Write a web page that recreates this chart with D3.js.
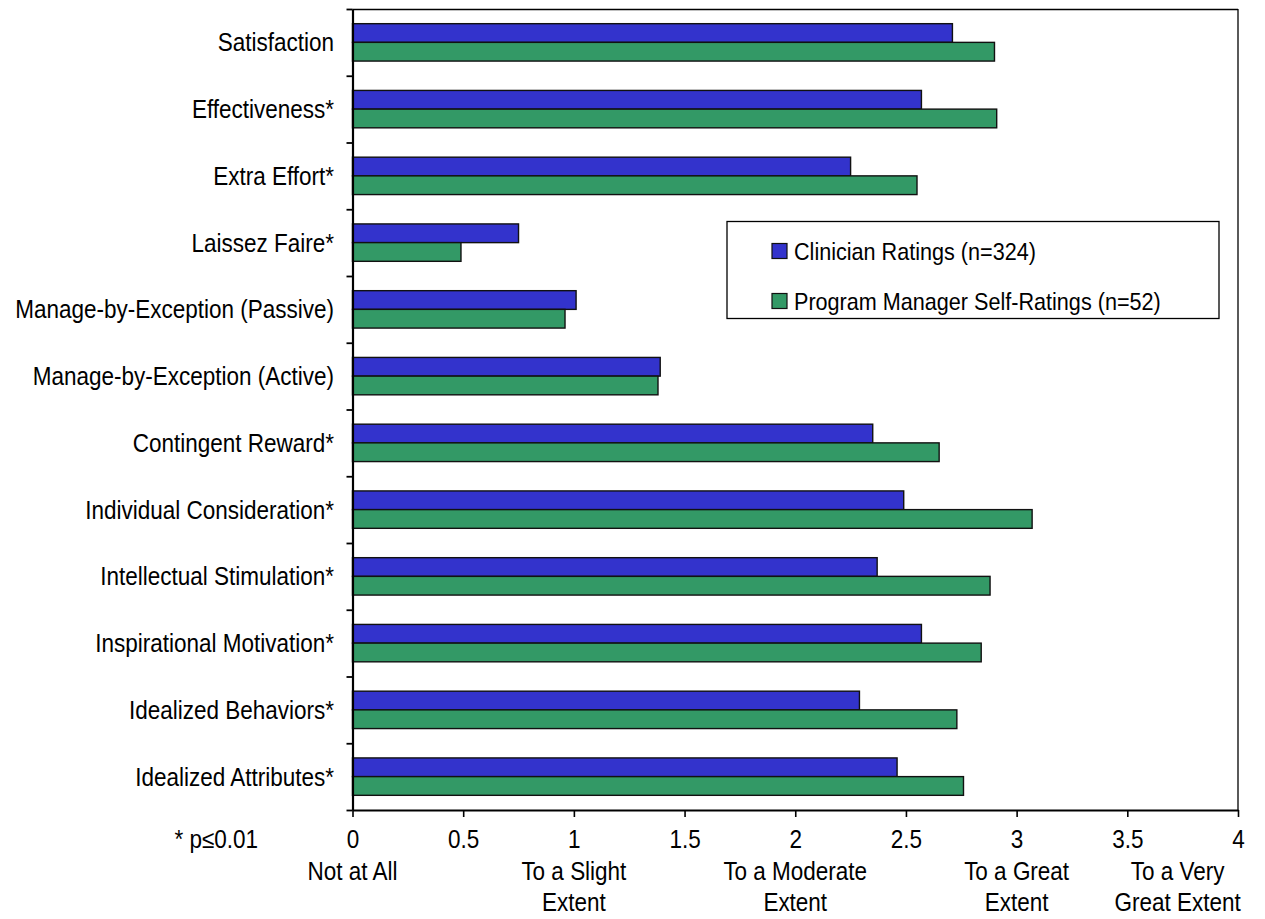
<!DOCTYPE html>
<html>
<head>
<meta charset="utf-8">
<script src="https://cdn.jsdelivr.net/npm/d3@7"></script>
<style>
  html, body { margin: 0; padding: 0; background: #fff; }
  svg { display: block; font-family: "Liberation Sans", Arial, sans-serif; }
</style>
</head>
<body>
<svg id="chart" width="1265" height="919"></svg>
<script>
// Leadership scale means, listed top to bottom
const categories = [
  "Satisfaction",
  "Effectiveness*",
  "Extra Effort*",
  "Laissez Faire*",
  "Manage-by-Exception (Passive)",
  "Manage-by-Exception (Active)",
  "Contingent Reward*",
  "Individual Consideration*",
  "Intellectual Stimulation*",
  "Inspirational Motivation*",
  "Idealized Behaviors*",
  "Idealized Attributes*"
];
const clinicianRatings = [2.71, 2.57, 2.25, 0.75, 1.01, 1.39, 2.35, 2.49, 2.37, 2.57, 2.29, 2.46];
const managerSelfRatings = [2.90, 2.91, 2.55, 0.49, 0.96, 1.38, 2.65, 3.07, 2.88, 2.84, 2.73, 2.76];

const seriesNames = ["Clinician Ratings (n=324)", "Program Manager Self-Ratings (n=52)"];
const seriesColors = ["#3333CC", "#339966"];

const xTicks = [0, 0.5, 1, 1.5, 2, 2.5, 3, 3.5, 4];
const anchorValues = [0, 1, 2, 3, 4];
const anchorLines = [
  ["Not at All"],
  ["To a Slight", "Extent"],
  ["To a Moderate", "Extent"],
  ["To a Great", "Extent"],
  ["To a Very", "Great Extent"]
];
const footnote = "* p\u22640.01";

const svg = d3.select("#chart");
const W = 1265;
const plot = { left: 352.5, right: 1238, top: 9, bottom: 810 };
const FONT = 25, SQUEEZE = 0.9;

const x = d3.scaleLinear().domain([0, 4]).range([plot.left, plot.right]);
const y = d3.scaleBand().domain(categories).range([plot.top, plot.bottom]).paddingInner(0).paddingOuter(0);
const ySeries = d3.scaleBand().domain([0, 1]).range([0, y.bandwidth()]).paddingInner(0).paddingOuter(0.785);
const yEdges = d3.scaleLinear().domain([0, categories.length]).range([plot.top, plot.bottom]);

// frame: thin top and right edges
svg.append("line").attr("x1", plot.left).attr("x2", plot.right).attr("y1", plot.top + 0.5).attr("y2", plot.top + 0.5)
  .attr("stroke", "#000").attr("stroke-width", 1.3);
svg.append("line").attr("x1", plot.right).attr("x2", plot.right).attr("y1", plot.top).attr("y2", plot.bottom)
  .attr("stroke", "#000").attr("stroke-width", 1.3);

// bars
const seriesData = [clinicianRatings, managerSelfRatings];
seriesData.forEach((vals, s) => {
  svg.append("g").selectAll("rect")
    .data(vals)
    .join("rect")
    .attr("x", plot.left)
    .attr("y", (d, i) => y(categories[i]) + ySeries(s))
    .attr("width", d => x(d) - x(0))
    .attr("height", ySeries.bandwidth())
    .attr("fill", seriesColors[s])
    .attr("stroke", "#111")
    .attr("stroke-width", 1.4);
});

// left axis with ticks at category boundaries
const leftAxis = svg.append("g")
  .attr("transform", `translate(${plot.left},0)`)
  .call(d3.axisLeft(yEdges).tickValues(d3.range(categories.length + 1)).tickFormat("").tickSize(6).tickSizeOuter(0));
leftAxis.select(".domain").attr("stroke-width", 2.2);
leftAxis.selectAll(".tick line").attr("stroke-width", 1.8);

// bottom axis
const bottomAxis = svg.append("g")
  .attr("transform", `translate(0,${plot.bottom})`)
  .call(d3.axisBottom(x).tickValues(xTicks).tickFormat(d3.format("")).tickSize(7).tickSizeOuter(0).tickPadding(0));
bottomAxis.select(".domain").attr("stroke-width", 2.2);
bottomAxis.selectAll(".tick line").attr("stroke-width", 1.6);
bottomAxis.selectAll(".tick text")
  .attr("font-size", FONT)
  .attr("font-family", "Liberation Sans, Arial, sans-serif")
  .attr("fill", "#000")
  .attr("dy", null)
  .attr("y", 38)
  .attr("transform", `scale(${SQUEEZE},1)`);

// category labels
categories.forEach(c => {
  svg.append("g")
    .attr("transform", `translate(334,${y(c) + y.bandwidth() / 2 + 9}) scale(${SQUEEZE},1)`)
    .append("text")
    .attr("text-anchor", "end")
    .attr("font-size", FONT)
    .text(c);
});

// verbal anchors below the scale values
anchorValues.forEach((v, i) => {
  const g = svg.append("g").attr("transform", `translate(${x(v)},0)`);
  const inner = g.append("g").attr("transform", `scale(${SQUEEZE},1)`);
  anchorLines[i].forEach((line, k) => {
    inner.append("text")
      .attr("text-anchor", "middle")
      .attr("font-size", FONT)
      .attr("y", 880 + k * 31)
      .text(line);
  });
  // keep the block inside the page
  const box = g.node().getBBox();
  const overflow = x(v) + (box.x + box.width) - (W - 24);
  if (overflow > 0) g.attr("transform", `translate(${x(v) - overflow},0)`);
});

// footnote
svg.append("g")
  .attr("transform", `translate(258,${plot.bottom + 38}) scale(${SQUEEZE},1)`)
  .append("text")
  .attr("text-anchor", "end")
  .attr("font-size", FONT)
  .text(footnote);

// legend
const legend = svg.append("g");
legend.append("rect")
  .attr("x", 727).attr("y", 221.5).attr("width", 492).attr("height", 97)
  .attr("fill", "#fff").attr("stroke", "#000").attr("stroke-width", 1.3);
const legendRows = [251, 301];
seriesNames.forEach((name, s) => {
  legend.append("rect")
    .attr("x", 772).attr("y", legendRows[s] - 7.5).attr("width", 15).attr("height", 15)
    .attr("fill", seriesColors[s]).attr("stroke", "#111").attr("stroke-width", 1.2);
  legend.append("g")
    .attr("transform", `translate(794,${legendRows[s] + 8.5}) scale(${SQUEEZE},1)`)
    .append("text")
    .attr("font-size", 24)
    .text(name);
});
</script>
</body>
</html>
